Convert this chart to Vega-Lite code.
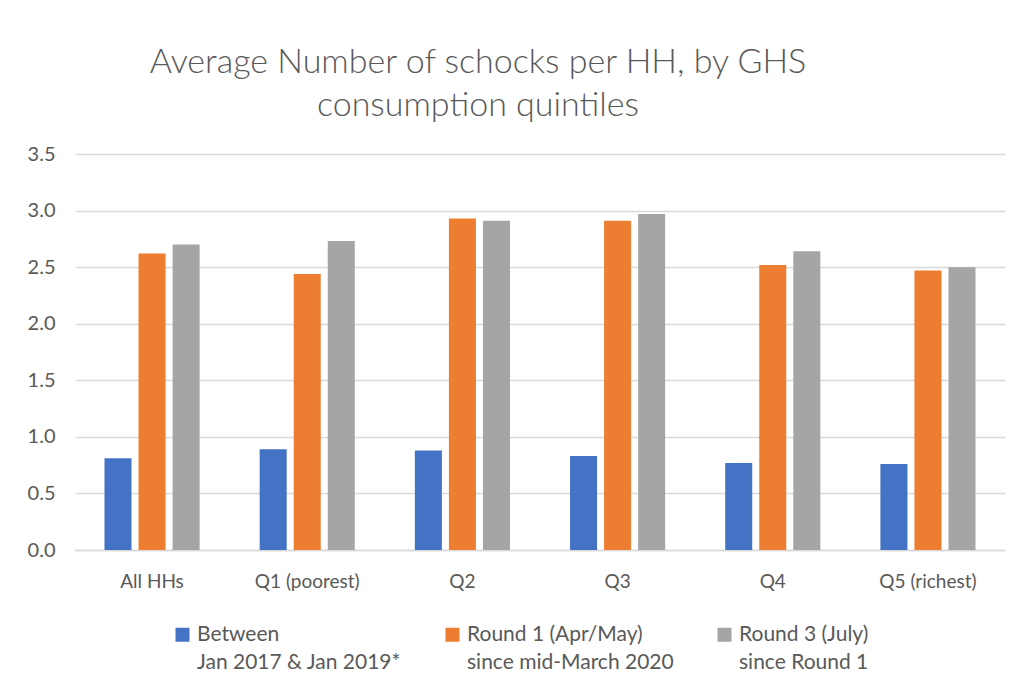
{
  "$schema": "https://vega.github.io/schema/vega-lite/v6.json",
  "autosize": "none",
  "width": 930,
  "height": 396,
  "padding": {"left": 75, "top": 154, "right": 22, "bottom": 147},
  "background": "white",
  "title": {
    "text": ["Average Number of schocks per HH, by GHS", "consumption quintiles"],
    "anchor": "middle",
    "frame": "group",
    "dx": -62,
    "offset": 21,
    "fontSize": 34,
    "font": "Lato",
    "fontWeight": 300,
    "color": "#595959",
    "lineHeight": 43
  },
  "data": {
    "values": [
      {"group": "All HHs", "period": "Between|Jan 2017 & Jan 2019*", "value": 0.81},
      {"group": "All HHs", "period": "Round 1 (Apr/May)|since mid-March 2020", "value": 2.62},
      {"group": "All HHs", "period": "Round 3 (July)|since Round 1", "value": 2.70},
      {"group": "Q1 (poorest)", "period": "Between|Jan 2017 & Jan 2019*", "value": 0.89},
      {"group": "Q1 (poorest)", "period": "Round 1 (Apr/May)|since mid-March 2020", "value": 2.44},
      {"group": "Q1 (poorest)", "period": "Round 3 (July)|since Round 1", "value": 2.73},
      {"group": "Q2", "period": "Between|Jan 2017 & Jan 2019*", "value": 0.88},
      {"group": "Q2", "period": "Round 1 (Apr/May)|since mid-March 2020", "value": 2.93},
      {"group": "Q2", "period": "Round 3 (July)|since Round 1", "value": 2.91},
      {"group": "Q3", "period": "Between|Jan 2017 & Jan 2019*", "value": 0.83},
      {"group": "Q3", "period": "Round 1 (Apr/May)|since mid-March 2020", "value": 2.91},
      {"group": "Q3", "period": "Round 3 (July)|since Round 1", "value": 2.97},
      {"group": "Q4", "period": "Between|Jan 2017 & Jan 2019*", "value": 0.77},
      {"group": "Q4", "period": "Round 1 (Apr/May)|since mid-March 2020", "value": 2.52},
      {"group": "Q4", "period": "Round 3 (July)|since Round 1", "value": 2.64},
      {"group": "Q5 (richest)", "period": "Between|Jan 2017 & Jan 2019*", "value": 0.76},
      {"group": "Q5 (richest)", "period": "Round 1 (Apr/May)|since mid-March 2020", "value": 2.47},
      {"group": "Q5 (richest)", "period": "Round 3 (July)|since Round 1", "value": 2.50}
    ]
  },
  "mark": {"type": "bar"},
  "encoding": {
    "x": {
      "field": "group",
      "type": "nominal",
      "sort": null,
      "scale": {"paddingInner": 0.387, "paddingOuter": 0.19},
      "axis": {
        "title": null,
        "labelAngle": 0,
        "labelFontSize": 19,
        "labelFont": "Lato",
        "labelColor": "#595959",
        "labelPadding": 22,
        "ticks": false,
        "domainColor": "#d9d9d9",
        "domainWidth": 1.5
      }
    },
    "xOffset": {
      "field": "period",
      "type": "nominal",
      "sort": null,
      "scale": {"paddingInner": 0.206, "paddingOuter": 0}
    },
    "y": {
      "field": "value",
      "type": "quantitative",
      "scale": {"domain": [0, 3.5]},
      "axis": {
        "title": null,
        "values": [0, 0.5, 1, 1.5, 2, 2.5, 3, 3.5],
        "format": ".1f",
        "labelFontSize": 20,
        "labelFont": "Lato",
        "labelColor": "#595959",
        "labelPadding": 20,
        "ticks": false,
        "domain": false,
        "gridColor": "#d9d9d9",
        "gridWidth": 1.5
      }
    },
    "color": {
      "field": "period",
      "type": "nominal",
      "sort": null,
      "scale": {"range": ["#4472c4", "#ed7d31", "#a5a5a5"]},
      "legend": {
        "title": null,
        "orient": "none",
        "legendX": 97,
        "legendY": 470,
        "direction": "horizontal",
        "labelExpr": "split(datum.label, '|')",
        "labelFontSize": 21,
        "labelFont": "Lato",
        "labelColor": "#595959",
        "labelLimit": 400,
        "symbolType": "square",
        "symbolSize": 196,
        "symbolStrokeWidth": 0,
        "columnPadding": 40,
        "labelOffset": 4,
        "labelBaseline": "top",
        "encoding": {"labels": {"lineHeight": {"value": 28}, "dy": {"value": -11}}}
      }
    }
  },
  "config": {"view": {"stroke": null}}
}
